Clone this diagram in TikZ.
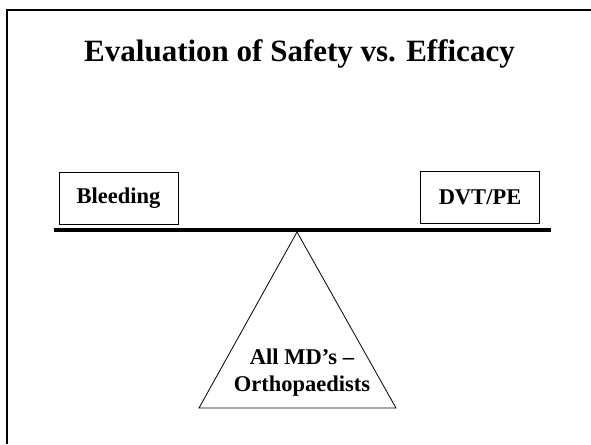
\documentclass[tikz,border=0pt]{standalone}
\usepackage{fontspec}
\setmainfont{Liberation Serif}
\begin{document}
\begin{tikzpicture}[x=1pt,y=-1pt,
  frameline/.style={line width=2pt,black},
  weightbox/.style={draw,line width=0.9pt,minimum width=119pt,minimum height=52pt,inner sep=0pt,font=\fontsize{22.5}{27}\selectfont\bfseries},
  beamline/.style={line width=4pt,black},
  fulcrum/.style={draw,line width=0.8pt,line join=miter},
  bodytext/.style={font=\fontsize{22.5}{27}\selectfont\bfseries,align=center,inner sep=0pt},
  titletext/.style={font=\fontsize{31}{37}\selectfont\bfseries,inner sep=0pt}]
\useasboundingbox (0,0) rectangle (591,444);
% frame (only top and left visible)
\coordinate (fl) at (7,444);
\coordinate (ft) at (7,10);
\coordinate (fr) at (591,10);
\draw[frameline] (fl) -- (ft) -- (fr);
% title
\node[titletext,anchor=base] (title) at (299.5,61) {Evaluation of Safety vs. Efficacy};
% boxes
\node[weightbox] (bleed) at (118.5,198) {Bleeding};
\node[weightbox] (dvt) at (480,197.5) {DVT/PE};
% beam
\coordinate (bl) at (54,230);
\coordinate (br) at (551,230);
\draw[beamline] (bl) -- (br);
% fulcrum
\coordinate (apex) at (297,232);
\coordinate (baseL) at (199,408);
\coordinate (baseR) at (396,408);
\draw[fulcrum] (apex) -- (baseL) -- (baseR) -- cycle;
\node[bodytext] (md) at (302,373) {All MD’s –\\Orthopaedists};
\end{tikzpicture}
\end{document}
